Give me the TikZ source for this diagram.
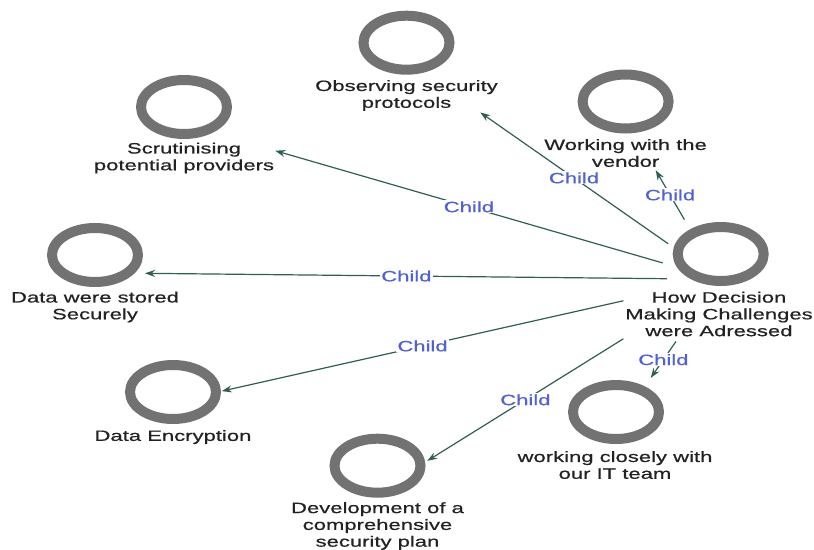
\documentclass[tikz,border=0pt]{standalone}
\usepackage{fontspec}
\newfontfamily\mapfont{Liberation Sans}[FakeStretch=1.47,FakeBold=0.6]
\usetikzlibrary{arrows.meta,fit,shapes.geometric}

\definecolor{ringgray}{RGB}{114,114,114}
\definecolor{linkgreen}{RGB}{47,94,84}
\definecolor{childblue}{RGB}{80,96,216}
\definecolor{textgray}{RGB}{34,34,34}

\tikzset{
  conceptring/.style={ellipse, draw=ringgray, line width=10pt, minimum width=86pt, minimum height=54pt, inner sep=0pt},
  conceptlbl/.style={font={\mapfont\fontsize{15}{16.8}\selectfont}, text=textgray, align=center, inner sep=0pt},
  conceptbox/.style={inner sep=0pt},
  childlink/.style={draw=linkgreen, line width=1.2pt, -{Stealth[length=10pt,width=7pt]}},
  childlbl/.style={font={\mapfont\fontsize{15}{16.8}\selectfont}, text=childblue, fill=white, inner sep=1pt}
}

\begin{document}
\begin{tikzpicture}[x=1pt,y=-1pt]
\useasboundingbox (0,0) rectangle (814,549);

% concepts
\node[conceptring] (hub) at (720.7,254) {};
\node[conceptlbl] (hub-t) at (719,314) {How Decision\\Making Challenges\\were Adressed};

\node[conceptring] (obs) at (406.5,42.7) {};
\node[conceptlbl] (obs-t) at (406.5,95.5) {Observing security\\protocols};

\node[conceptring] (vend) at (625.6,101.5) {};
\node[conceptlbl] (vend-t) at (625.6,153) {Working with the\\vendor};

\node[conceptring] (scrut) at (184,107) {};
\node[conceptlbl] (scrut-t) at (184,158) {Scrutinising\\potential providers};

\node[conceptring] (store) at (95,255) {};
\node[conceptlbl] (store-t) at (95,307) {Data were stored\\Securely};

\node[conceptring] (encr) at (173,392) {};
\node[conceptlbl] (encr-t) at (173,437) {Data Encryption};

\node[conceptring] (plan) at (377.5,465.7) {};
\node[conceptlbl] (plan-t) at (377.5,526) {Development of a\\comprehensive\\security plan};

\node[conceptring] (team) at (616,412) {};
\node[conceptlbl] (team-t) at (615,465) {working closely with\\our IT team};

% groups
\node[conceptbox, fit=(hub)(hub-t)] (hub-g) {};
\node[conceptbox, fit=(obs)(obs-t)] (obs-g) {};
\node[conceptbox, fit=(vend)(vend-t)] (vend-g) {};
\node[conceptbox, fit=(scrut)(scrut-t)] (scrut-g) {};
\node[conceptbox, fit=(store)(store-t)] (store-g) {};
\node[conceptbox, fit=(encr)(encr-t)] (encr-g) {};
\node[conceptbox, fit=(plan)(plan-t)] (plan-g) {};
\node[conceptbox, fit=(team)(team-t)] (team-g) {};

% links
\draw[childlink, shorten <=62pt, shorten >=90pt] (hub-g.center) -- (obs-g.center) node[childlbl, pos=0.464] {Child};
\draw[childlink, shorten <=69pt, shorten >=60pt] (hub-g.center) -- (vend-g.center) node[childlbl, pos=0.524] {Child};
\draw[childlink, shorten <=58.6pt, shorten >=95pt] (hub-g.center) -- (scrut-g.center) node[childlbl, pos=0.4675] {Child};
\draw[childlink, shorten <=52pt, shorten >=50pt] (hub-g.center) -- (store-g.center) node[childlbl, pos=0.501] {Child};
\draw[childlink, shorten <=98pt, shorten >=50pt] (hub-g.center) -- (encr-g.center) node[childlbl, pos=0.543] {Child};
\draw[childlink, shorten <=112.6pt, shorten >=58.6pt] (hub-g.center) -- (plan-g.center) node[childlbl, pos=0.567] {Child};
\draw[childlink, shorten <=75.6pt, shorten >=62.8pt] (hub-g.center) -- (team-g.center) node[childlbl, pos=0.535] {Child};

\end{tikzpicture}
\end{document}
